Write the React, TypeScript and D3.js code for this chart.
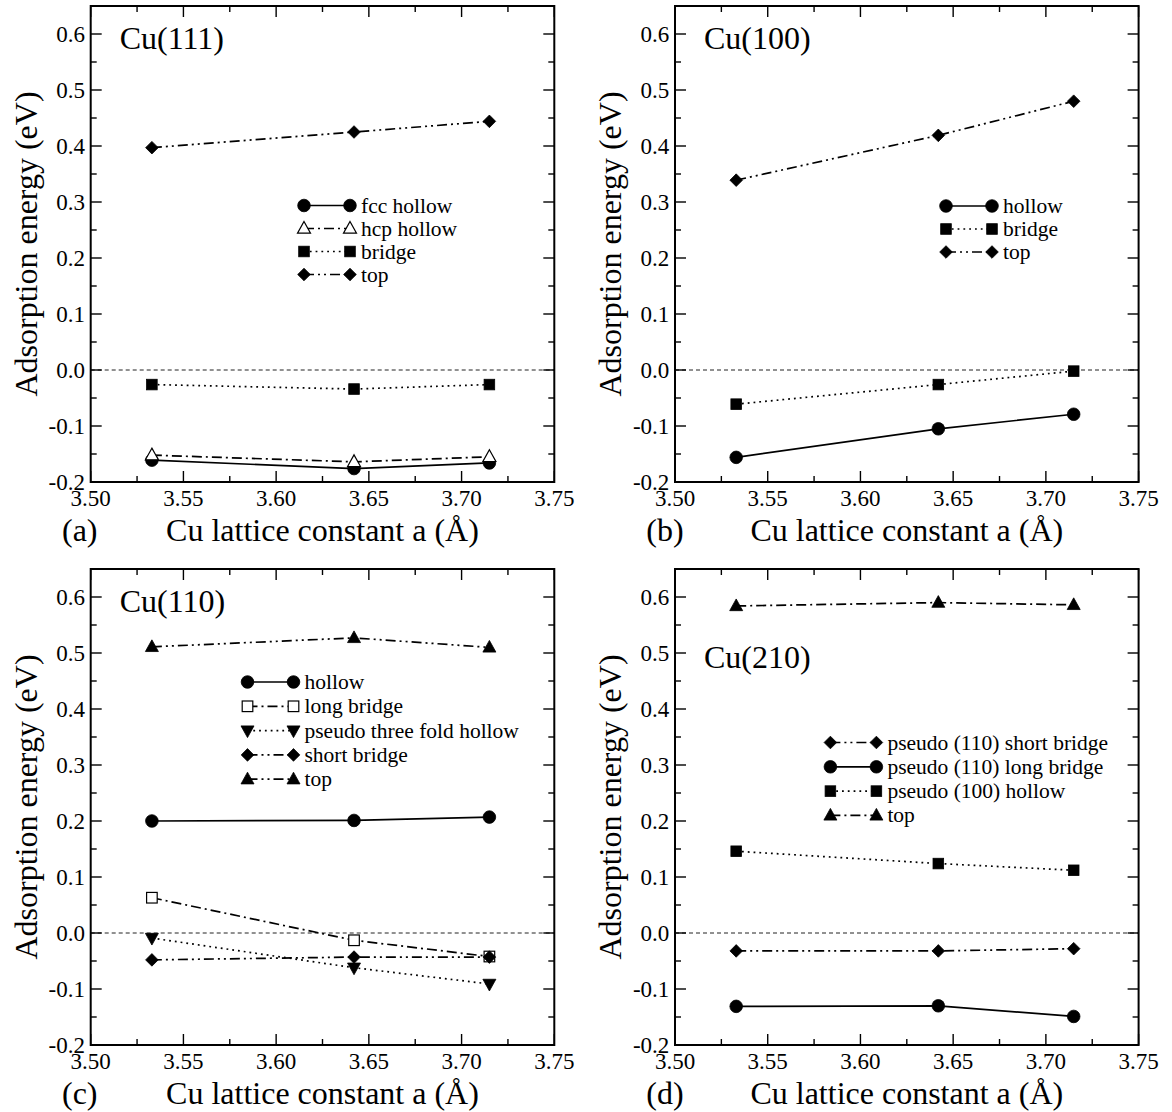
import React from "react";
import * as d3 from "d3";

// Cu lattice constants (Å) used for every surface
const latticeA = [3.533, 3.642, 3.715];

// Cu(111) adsorption energies (eV)
const cu111FccHollow = [-0.161, -0.176, -0.166];
const cu111HcpHollow = [-0.152, -0.164, -0.155];
const cu111Bridge = [-0.026, -0.034, -0.026];
const cu111Top = [0.397, 0.425, 0.444];

// Cu(100)
const cu100Hollow = [-0.156, -0.105, -0.079];
const cu100Bridge = [-0.061, -0.026, -0.002];
const cu100Top = [0.339, 0.419, 0.48];

// Cu(110)
const cu110Hollow = [0.2, 0.201, 0.207];
const cu110LongBridge = [0.063, -0.013, -0.042];
const cu110PseudoThreeFold = [-0.009, -0.062, -0.091];
const cu110ShortBridge = [-0.048, -0.043, -0.043];
const cu110Top = [0.511, 0.527, 0.51];

// Cu(210)
const cu210ShortBridge = [-0.032, -0.032, -0.028];
const cu210LongBridge = [-0.131, -0.13, -0.149];
const cu210Hollow100 = [0.146, 0.124, 0.112];
const cu210Top = [0.584, 0.59, 0.586];

const xTickValues = [3.5, 3.55, 3.6, 3.65, 3.7, 3.75];
const yTickValues = [-0.2, -0.1, 0.0, 0.1, 0.2, 0.3, 0.4, 0.5, 0.6];
const xDomain = [3.5, 3.75];
const yDomain = [-0.2, 0.65];

type Marker = "circle" | "triangle" | "triangleDown" | "square" | "diamond";
type Dash = "solid" | "dot" | "dashDot" | "dashDotDot";

interface Series {
  name: string;
  values: number[];
  marker: Marker;
  open?: boolean;
  dash: Dash;
}

const DASHES: Record<Dash, string | undefined> = {
  solid: undefined,
  dot: "1.8,4",
  dashDot: "10,4,2,4",
  dashDotDot: "10,4,2,4,2,4",
};

const FONT = "'Liberation Serif', 'Times New Roman', Times, serif";

const PLOT_W = 463.6;
const PLOT_H = 476;
const LINE_W = 1.7;

interface Panel {
  title: string;
  letter: string;
  left: number;
  top: number;
  titleY: number;
  legendX: number;
  legendY: number;
  legendGap: number;
  series: Series[];
}

const panels: Panel[] = [
  {
    title: "Cu(111)",
    letter: "(a)",
    left: 90.7,
    top: 6,
    titleY: 42.5,
    legendX: 213.3,
    legendY: 199.5,
    legendGap: 23,
    series: [
      { name: "fcc hollow", values: cu111FccHollow, marker: "circle", dash: "solid" },
      { name: "hcp hollow", values: cu111HcpHollow, marker: "triangle", open: true, dash: "dashDot" },
      { name: "bridge", values: cu111Bridge, marker: "square", dash: "dot" },
      { name: "top", values: cu111Top, marker: "diamond", dash: "dashDotDot" },
    ],
  },
  {
    title: "Cu(100)",
    letter: "(b)",
    left: 675,
    top: 6,
    titleY: 42.5,
    legendX: 271,
    legendY: 200,
    legendGap: 23,
    series: [
      { name: "hollow", values: cu100Hollow, marker: "circle", dash: "solid" },
      { name: "bridge", values: cu100Bridge, marker: "square", dash: "dot" },
      { name: "top", values: cu100Top, marker: "diamond", dash: "dashDotDot" },
    ],
  },
  {
    title: "Cu(110)",
    letter: "(c)",
    left: 90.7,
    top: 569,
    titleY: 42.5,
    legendX: 156.8,
    legendY: 113,
    legendGap: 24.3,
    series: [
      { name: "hollow", values: cu110Hollow, marker: "circle", dash: "solid" },
      { name: "long bridge", values: cu110LongBridge, marker: "square", open: true, dash: "dashDot" },
      { name: "pseudo three fold hollow", values: cu110PseudoThreeFold, marker: "triangleDown", dash: "dot" },
      { name: "short bridge", values: cu110ShortBridge, marker: "diamond", dash: "dashDotDot" },
      { name: "top", values: cu110Top, marker: "triangle", dash: "dashDotDot" },
    ],
  },
  {
    title: "Cu(210)",
    letter: "(d)",
    left: 675,
    top: 569,
    titleY: 99.3,
    legendX: 155.4,
    legendY: 173.5,
    legendGap: 24.3,
    series: [
      { name: "pseudo (110) short bridge", values: cu210ShortBridge, marker: "diamond", dash: "dashDotDot" },
      { name: "pseudo (110) long bridge", values: cu210LongBridge, marker: "circle", dash: "solid" },
      { name: "pseudo (100) hollow", values: cu210Hollow100, marker: "square", dash: "dot" },
      { name: "top", values: cu210Top, marker: "triangle", dash: "dashDot" },
    ],
  },
];

function MarkerShape({ kind, x, y, open }: { kind: Marker; x: number; y: number; open?: boolean }) {
  const fill = open ? "#fff" : "#000";
  const stroke = "#000";
  const sw = open ? 1.2 : 0.8;
  switch (kind) {
    case "circle":
      return <circle cx={x} cy={y} r={6.3} fill={fill} stroke={stroke} strokeWidth={sw} />;
    case "square":
      return <rect x={x - 5.3} y={y - 5.3} width={10.6} height={10.6} fill={fill} stroke={stroke} strokeWidth={sw} />;
    case "diamond":
      return (
        <path d={`M${x},${y - 6.3}L${x + 6.3},${y}L${x},${y + 6.3}L${x - 6.3},${y}Z`} fill={fill} stroke={stroke} strokeWidth={sw} />
      );
    case "triangle":
      return (
        <path d={`M${x},${y - 7}L${x + 6.5},${y + 4.7}L${x - 6.5},${y + 4.7}Z`} fill={fill} stroke={stroke} strokeWidth={sw} />
      );
    case "triangleDown":
      return (
        <path d={`M${x},${y + 7}L${x + 6.5},${y - 4.7}L${x - 6.5},${y - 4.7}Z`} fill={fill} stroke={stroke} strokeWidth={sw} />
      );
  }
}

function PanelView({ p }: { p: Panel }) {
  const x = d3.scaleLinear().domain(xDomain).range([0, PLOT_W]);
  const y = d3.scaleLinear().domain(yDomain).range([PLOT_H, 0]);
  const line = d3
    .line<number>()
    .x((_, i) => x(latticeA[i]))
    .y((d) => y(d));

  const xMinor = d3.range(3.5, 3.7501, 0.025).filter((_, i) => i % 2 === 1);
  const yMinor = d3.range(-0.15, 0.651, 0.1);
  const MAJ = 11;
  const MIN = 6;

  return (
    <g transform={`translate(${p.left},${p.top})`}>
      {/* zero reference */}
      <line x1={0} x2={PLOT_W} y1={y(0)} y2={y(0)} stroke="#222" strokeWidth={1} strokeDasharray="4,3" />

      {/* ticks on all four sides, pointing inward */}
      {xTickValues.map((t) => (
        <g key={`xt${t}`}>
          <line x1={x(t)} x2={x(t)} y1={PLOT_H} y2={PLOT_H - MAJ} stroke="#000" strokeWidth={1.4} />
          <line x1={x(t)} x2={x(t)} y1={0} y2={MAJ} stroke="#000" strokeWidth={1.4} />
        </g>
      ))}
      {xMinor.map((t) => (
        <g key={`xm${t}`}>
          <line x1={x(t)} x2={x(t)} y1={PLOT_H} y2={PLOT_H - MIN} stroke="#000" strokeWidth={1.4} />
          <line x1={x(t)} x2={x(t)} y1={0} y2={MIN} stroke="#000" strokeWidth={1.4} />
        </g>
      ))}
      {yTickValues.map((t) => (
        <g key={`yt${t}`}>
          <line x1={0} x2={MAJ} y1={y(t)} y2={y(t)} stroke="#000" strokeWidth={1.4} />
          <line x1={PLOT_W} x2={PLOT_W - MAJ} y1={y(t)} y2={y(t)} stroke="#000" strokeWidth={1.4} />
        </g>
      ))}
      {yMinor.map((t) => (
        <g key={`ym${t}`}>
          <line x1={0} x2={MIN} y1={y(t)} y2={y(t)} stroke="#000" strokeWidth={1.4} />
          <line x1={PLOT_W} x2={PLOT_W - MIN} y1={y(t)} y2={y(t)} stroke="#000" strokeWidth={1.4} />
        </g>
      ))}

      {/* series lines */}
      {p.series.map((s) => (
        <path
          key={`l${s.name}`}
          d={line(s.values) || ""}
          fill="none"
          stroke="#000"
          strokeWidth={LINE_W}
          strokeDasharray={DASHES[s.dash]}
        />
      ))}
      {/* series markers */}
      {p.series.map((s) =>
        s.values.map((v, i) => (
          <MarkerShape key={`m${s.name}${i}`} kind={s.marker} x={x(latticeA[i])} y={y(v)} open={s.open} />
        ))
      )}

      {/* frame */}
      <rect x={0} y={0} width={PLOT_W} height={PLOT_H} fill="none" stroke="#000" strokeWidth={2} />

      {/* tick labels */}
      {xTickValues.map((t) => (
        <text key={`xl${t}`} x={x(t)} y={PLOT_H + 24} textAnchor="middle" fontFamily={FONT} fontSize={23}>
          {d3.format(".2f")(t)}
        </text>
      ))}
      {yTickValues.map((t) => (
        <text key={`yl${t}`} x={-5.7} y={y(t) + 8} textAnchor="end" fontFamily={FONT} fontSize={23}>
          {d3.format(".1f")(t).replace("−", "-")}
        </text>
      ))}

      {/* axis titles */}
      <text x={PLOT_W / 2} y={PLOT_H + 58.5} textAnchor="middle" fontFamily={FONT} fontSize={32}>
        Cu lattice constant a (Å)
      </text>
      <text x={-28.7} y={PLOT_H + 58.5} fontFamily={FONT} fontSize={32}>
        {p.letter}
      </text>
      <text
        transform={`translate(${-53.7},${PLOT_H / 2}) rotate(-90)`}
        textAnchor="middle"
        fontFamily={FONT}
        fontSize={32}
      >
        Adsorption energy (eV)
      </text>

      {/* surface title */}
      <text x={29} y={p.titleY} fontFamily={FONT} fontSize={32}>
        {p.title}
      </text>

      {/* legend */}
      {p.series.map((s, i) => {
        const ly = p.legendY + i * p.legendGap;
        const lx = p.legendX;
        return (
          <g key={`lg${s.name}`}>
            <line x1={lx} x2={lx + 46} y1={ly} y2={ly} stroke="#000" strokeWidth={LINE_W} strokeDasharray={DASHES[s.dash]} />
            <MarkerShape kind={s.marker} x={lx} y={ly} open={s.open} />
            <MarkerShape kind={s.marker} x={lx + 46} y={ly} open={s.open} />
            <text x={lx + 57} y={ly + 7} fontFamily={FONT} fontSize={21.5}>
              {s.name}
            </text>
          </g>
        );
      })}
    </g>
  );
}

export default function App() {
  return (
    <svg
      width={1172}
      height={1112}
      style={{ position: "absolute", left: 0, top: 0, background: "#fff" }}
    >
      <rect width={1172} height={1112} fill="#fff" />
      {panels.map((p) => (
        <PanelView key={p.title} p={p} />
      ))}
    </svg>
  );
}
